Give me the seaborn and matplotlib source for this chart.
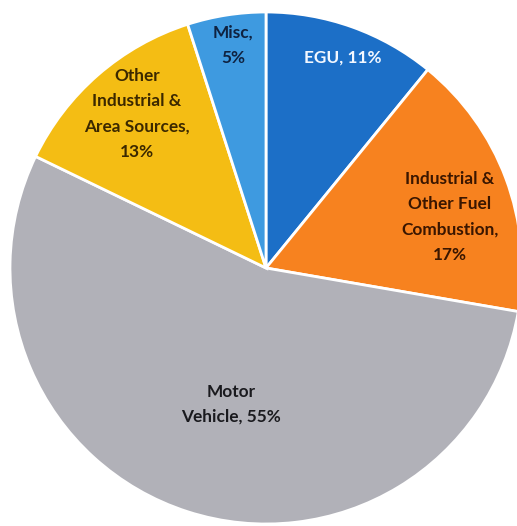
import matplotlib
matplotlib.use("Agg")
import matplotlib.pyplot as plt
import seaborn as sns
import numpy as np

# Emission source shares (percent)
categories = ["EGU", "Industrial & Other Fuel Combustion", "Motor Vehicle",
              "Other Industrial & Area Sources", "Misc"]
shares = [11, 17, 55, 13, 5]
label_texts = ["EGU, 11%", "Industrial &\nOther Fuel\nCombustion,\n17%",
               "Motor\nVehicle, 55%", "Other\nIndustrial &\nArea Sources,\n13%",
               "Misc,\n5%"]

slice_colors = ["#1c6fc7", "#f7821f", "#b1b1b8", "#f4bd14", "#3e9ae0"]
text_colors = ["#f2f7ff", "#3a1600", "#1a1a1e", "#3b2800", "#0f2240"]
# radial position (fraction of radius) and angular nudge (deg) for each label
label_radius = [0.874, 0.745, 0.55, 0.785, 0.88]
label_nudge = [-0.5, -5.0, 3.4, -1.0, -0.5]

sns.set_theme(style="white")
plt.rcParams["font.family"] = ["Lato", "DejaVu Sans"]

W, H = 517, 526
fig = plt.figure(figsize=(W / 100, H / 100), dpi=100)
R = 256
cx, cy = 266, H - 268
ax = fig.add_axes([(cx - R) / W, (cy - R) / H, 2 * R / W, 2 * R / H])

wedges, _ = ax.pie(shares, colors=slice_colors, startangle=90, counterclock=False,
                   radius=1.0, wedgeprops=dict(edgecolor="white", linewidth=2.0))
ax.set_xlim(-1, 1)
ax.set_ylim(-1, 1)
ax.set_aspect("equal")
ax.axis("off")

for w, txt, col, rr, dn in zip(wedges, label_texts, text_colors, label_radius, label_nudge):
    mid = np.deg2rad((w.theta1 + w.theta2) / 2 + dn)
    ax.text(rr * np.cos(mid), rr * np.sin(mid), txt, ha="center", va="center",
            color=col, fontsize=12.4, fontweight="bold", linespacing=1.7)

fig.savefig("out.png", dpi=100, facecolor="white")
